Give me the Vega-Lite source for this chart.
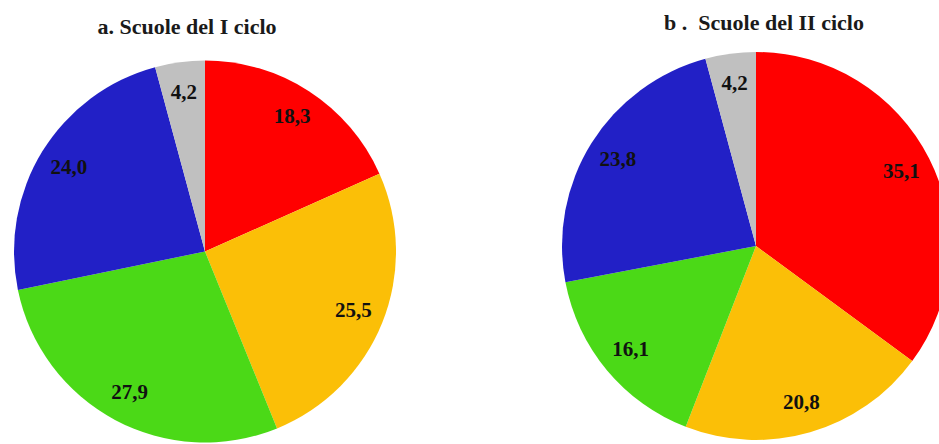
{
  "$schema": "https://vega.github.io/schema/vega-lite/v6.json",
  "padding": {"top": 11, "left": 0, "right": 0, "bottom": 0},
  "background": "white",
  "bounds": "flush",
  "spacing": 152,
  "config": {
    "view": {"stroke": null},
    "locale": {
      "number": {"decimal": ",", "thousands": ".", "grouping": [3], "currency": ["", " €"]}
    },
    "title": {
      "font": "Liberation Serif",
      "fontSize": 22,
      "fontWeight": "bold",
      "color": "#1a1a1a",
      "anchor": "middle"
    }
  },
  "data": {
    "values": [
      {"scuola": "I ciclo", "classe": 1, "quota": 18.3},
      {"scuola": "I ciclo", "classe": 2, "quota": 25.5},
      {"scuola": "I ciclo", "classe": 3, "quota": 27.9},
      {"scuola": "I ciclo", "classe": 4, "quota": 24.0},
      {"scuola": "I ciclo", "classe": 5, "quota": 4.2},
      {"scuola": "II ciclo", "classe": 1, "quota": 35.1},
      {"scuola": "II ciclo", "classe": 2, "quota": 20.8},
      {"scuola": "II ciclo", "classe": 3, "quota": 16.1},
      {"scuola": "II ciclo", "classe": 4, "quota": 23.8},
      {"scuola": "II ciclo", "classe": 5, "quota": 4.2}
    ]
  },
  "hconcat": [
    {
      "title": {"text": "a. Scuole del I ciclo", "dx": -18, "offset": 20.5},
      "width": 410,
      "height": 385,
      "transform": [{"filter": "datum.scuola === 'I ciclo'"}],
      "encoding": {
        "theta": {"field": "quota", "type": "quantitative", "stack": true},
        "order": {"field": "classe", "type": "ordinal"}
      },
      "layer": [
        {
          "mark": {"type": "arc", "radius": 191},
          "encoding": {
            "color": {
              "field": "classe",
              "type": "nominal",
              "legend": null,
              "scale": {
                "domain": [1, 2, 3, 4, 5],
                "range": ["#ff0000", "#fbbf07", "#4bd917", "#2220c6", "#c0c0c0"]
              }
            }
          }
        },
        {
          "mark": {
            "type": "text",
            "radius": 160,
            "font": "Liberation Serif",
            "fontSize": 21,
            "fontWeight": "bold",
            "color": "#111111"
          },
          "encoding": {
            "text": {"field": "quota", "type": "quantitative", "format": ".1f"}
          }
        }
      ]
    },
    {
      "title": {"text": "b .\u00a0 Scuole del II ciclo", "dx": 8, "offset": 17.5},
      "width": 388,
      "height": 374,
      "transform": [{"filter": "datum.scuola === 'II ciclo'"}],
      "encoding": {
        "theta": {"field": "quota", "type": "quantitative", "stack": true},
        "order": {"field": "classe", "type": "ordinal"}
      },
      "layer": [
        {
          "mark": {"type": "arc", "radius": 194},
          "encoding": {
            "color": {
              "field": "classe",
              "type": "nominal",
              "legend": null,
              "scale": {
                "domain": [1, 2, 3, 4, 5],
                "range": ["#ff0000", "#fbbf07", "#4bd917", "#2220c6", "#c0c0c0"]
              }
            }
          }
        },
        {
          "mark": {
            "type": "text",
            "radius": 163,
            "font": "Liberation Serif",
            "fontSize": 21,
            "fontWeight": "bold",
            "color": "#111111"
          },
          "encoding": {
            "text": {"field": "quota", "type": "quantitative", "format": ".1f"}
          }
        }
      ]
    }
  ]
}
